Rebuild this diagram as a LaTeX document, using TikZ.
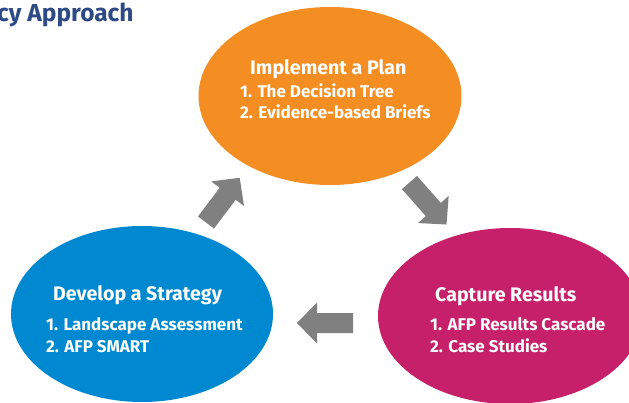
\documentclass[tikz,border=0pt]{standalone}
\usepackage{fontspec}
\setmainfont{Fira Sans}
\usetikzlibrary{shapes.geometric}
\definecolor{orangeC}{HTML}{F48E22}
\definecolor{blueC}{HTML}{0089D0}
\definecolor{magentaC}{HTML}{C6206A}
\definecolor{arrowgray}{HTML}{808080}
\definecolor{titleblue}{HTML}{2D4A86}
\tikzset{
  blob/.style={ellipse, inner sep=0pt, draw=none},
  headline/.style={anchor=base west, inner sep=0pt, text=white, font=\fontsize{19.6}{23}\selectfont\bfseries},
  itemline/.style={anchor=base west, inner sep=0pt, text=white, font=\fontsize{17}{20}\selectfont\bfseries},
  blockarrow/.style={fill=arrowgray}
}
\begin{document}
\begin{tikzpicture}[x=1pt,y=1pt]
\useasboundingbox (0,0) rectangle (629,402);
\clip (0,0) rectangle (629,402);
% title
\node[anchor=base west, inner sep=0pt, text=titleblue, font=\fontsize{24.5}{28}\selectfont\bfseries] (title) at (-3,380) {cy Approach};
% ellipses
\node[blob, fill=orangeC, minimum width=263pt, minimum height=178pt] (plan) at (330,306) {};
\node[blob, fill=blueC, minimum width=262pt, minimum height=176pt] (strategy) at (142,88) {};
\node[blob, fill=magentaC, minimum width=264pt, minimum height=176pt] (results) at (510,86) {};
% texts
\node[headline] (planH) at (250,327) {Implement a Plan};
\node[itemline] (planA) at (240,304) {1. The Decision Tree};
\node[itemline] (planB) at (240,283) {2. Evidence-based Briefs};
\node[headline] (stratH) at (53,102) {Develop a Strategy};
\node[itemline] (stratA) at (46,72) {1. Landscape Assessment};
\node[itemline] (stratB) at (46,50) {2. AFP SMART};
\node[headline] (resH) at (435,101) {Capture Results};
\node[itemline] (resA) at (430,72) {1. AFP Results Cascade};
\node[itemline] (resB) at (430,50) {2. Case Studies};
% block arrows
\foreach \px/\py/\ang in {206/179.5/53, 409.5/219.5/-48.6, 353/79/180}{
  \begin{scope}[shift={(\px,\py)}, rotate=\ang]
    \fill[blockarrow] (0,-10) -- (36,-10) -- (36,-20.5) -- (56,0) -- (36,20.5) -- (36,10) -- (0,10) -- cycle;
  \end{scope}
}
\end{tikzpicture}
\end{document}
